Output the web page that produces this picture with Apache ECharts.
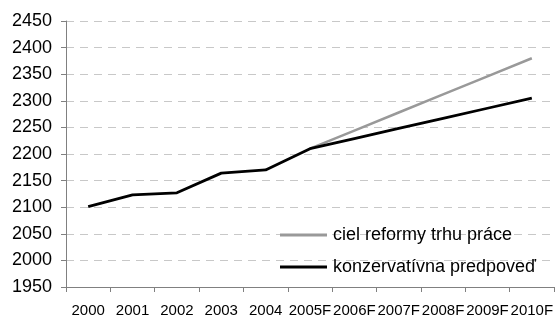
<!DOCTYPE html>
<html>
<head>
<meta charset="utf-8">
<script src="https://cdn.jsdelivr.net/npm/echarts@6/dist/echarts.min.js"></script>
<style>
  html, body { margin: 0; padding: 0; background: #fff; }
  #chart { width: 556px; height: 318px; }
</style>
</head>
<body>
<div id="chart"></div>
<script>
// roky, F = prognoza
const years = ['2000', '2001', '2002', '2003', '2004', '2005F', '2006F', '2007F', '2008F', '2009F', '2010F']
const cielReformy = [null, null, null, null, null, 2210, 2244, 2278, 2312, 2346, 2380]
const konzervativna = [2101, 2123, 2127, 2164, 2170, 2210, 2229, 2248, 2267, 2286, 2305]
const seriesNames = ['ciel reformy trhu práce', 'konzervatívna predpoveď']

const chart = echarts.init(document.getElementById('chart'))
const font = '"Liberation Sans", Arial, sans-serif'

const option = {
  animation: false,
  backgroundColor: '#fff',
  textStyle: { fontFamily: font },
  grid: { left: 66, right: 0, top: 21, bottom: 30, containLabel: false },
  legend: {
    orient: 'vertical',
    left: 280,
    top: 226,
    padding: 0,
    icon: 'rect',
    itemWidth: 47,
    itemHeight: 3,
    itemGap: 14,
    data: seriesNames,
    textStyle: { fontSize: 18, color: '#000', fontFamily: font, padding: [0, 0, 0, 1] }
  },
  xAxis: {
    type: 'category',
    data: years,
    boundaryGap: true,
    axisLine: { lineStyle: { color: '#808080', width: 1 } },
    axisTick: { show: true, length: 5, lineStyle: { color: '#808080' } },
    axisLabel: { interval: 0, fontSize: 15, color: '#000', margin: 16, fontFamily: font }
  },
  yAxis: {
    type: 'value',
    min: 1950,
    max: 2450,
    interval: 50,
    axisLine: { show: true, lineStyle: { color: '#808080', width: 1 } },
    axisTick: { show: true, length: 5, lineStyle: { color: '#808080' } },
    axisLabel: { fontSize: 18, color: '#000', margin: 14, fontFamily: font, formatter: (v) => String(v) },
    splitLine: { lineStyle: { color: '#c8c8c8', type: [8, 6] } }
  },
  series: [
    {
      name: seriesNames[0],
      type: 'line',
      data: cielReformy,
      symbol: 'none',
      lineStyle: { color: '#999999', width: 2.5 },
      itemStyle: { color: '#999999' }
    },
    {
      name: seriesNames[1],
      type: 'line',
      data: konzervativna,
      symbol: 'none',
      lineStyle: { color: '#000000', width: 2.8 },
      itemStyle: { color: '#000000' }
    }
  ]
}
chart.setOption(option)
</script>
</body>
</html>
